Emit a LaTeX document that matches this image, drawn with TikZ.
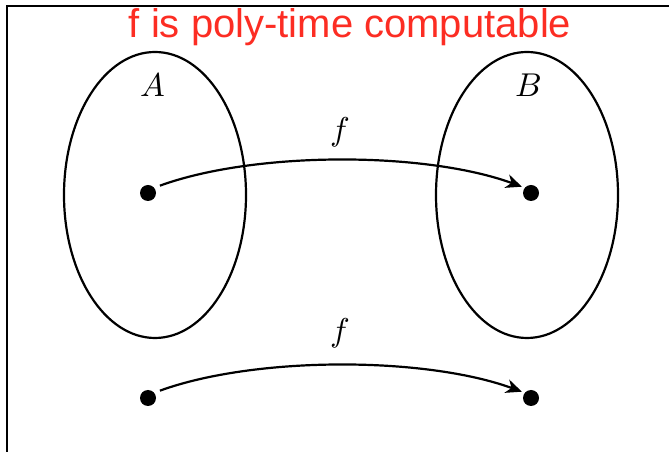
\documentclass[tikz,border=0pt]{standalone}
\usepackage{fontspec}
\setmainfont{Liberation Sans}
\usepackage{unicode-math}
\setmathfont{Latin Modern Math}
\usetikzlibrary{arrows.meta}
\definecolor{titlered}{RGB}{252,45,35}
\begin{document}
\begin{tikzpicture}[x=1pt,y=1pt,
  dot/.style={circle,fill=black,inner sep=0pt,minimum size=16pt},
  setell/.style={draw=black,line width=2.2pt},
  maparrow/.style={line width=2.2pt,-{Stealth[length=16pt,width=14pt,inset=5pt]},out=20,in=160,looseness=0.74,shorten <=6pt,shorten >=3pt},
  lbl/.style={font=\fontsize{33}{36}\selectfont}]
\useasboundingbox (0,0) rectangle (669,452);
\draw[line width=2.2pt] (7,-20) rectangle (700,446);
\node[text=titlered,font=\fontsize{40}{44}\selectfont] (title) at (350,425) {f is poly-time computable};
\draw[setell] (155,257) ellipse [x radius=91, y radius=143];
\draw[setell] (527,257) ellipse [x radius=91, y radius=143];
\node[lbl] (la) at (153,367) {$A$};
\node[lbl] (lb) at (528,367) {$B$};
\node[dot] (a1) at (148,259) {};
\node[dot] (b1) at (531,259) {};
\node[dot] (a2) at (148,54) {};
\node[dot] (b2) at (531,54) {};
\draw[maparrow] (a1.40) to (b1.140);
\draw[maparrow] (a2.40) to (b2.140);
\node[lbl] (f1) at (340,320) {$f$};
\node[lbl] (f2) at (340,119) {$f$};
\end{tikzpicture}
\end{document}
